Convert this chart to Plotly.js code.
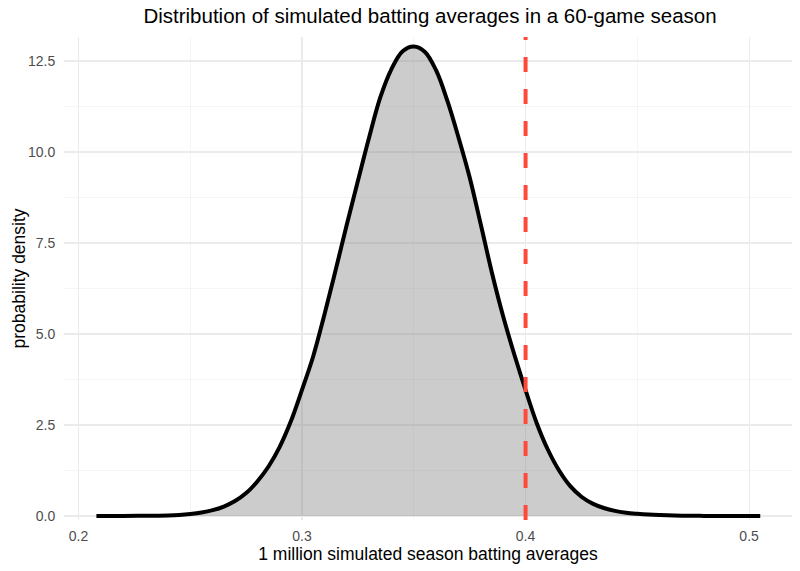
<!DOCTYPE html>
<html>
<head>
<meta charset="utf-8">
<script src="https://cdn.plot.ly/plotly-3.0.1.min.js"></script>
<style>
  html, body { margin: 0; padding: 0; background: #fff; }
  #chart { width: 800px; height: 571px; }
</style>
</head>
<body>
<div id="chart"></div>
<script>
"use strict";

// density curve
var averages = [0.208, 0.22, 0.23, 0.24, 0.245, 0.25, 0.255, 0.26, 0.265, 0.27,
  0.275, 0.28, 0.285, 0.29, 0.295, 0.30, 0.305, 0.31, 0.315, 0.32,
  0.325, 0.33, 0.335, 0.34, 0.345, 0.35, 0.355, 0.36, 0.365, 0.37,
  0.375, 0.38, 0.385, 0.39, 0.395, 0.40, 0.405, 0.41, 0.415, 0.42,
  0.425, 0.43, 0.435, 0.44, 0.445, 0.45, 0.455, 0.46, 0.47, 0.48,
  0.49, 0.505]
var density = [0, 0.002, 0.006, 0.017, 0.03, 0.055, 0.095, 0.16, 0.26, 0.41,
  0.63, 0.95, 1.36, 1.9, 2.6, 3.47, 4.39, 5.53, 6.75, 8.0,
  9.21, 10.4, 11.5, 12.28, 12.77, 12.9, 12.75, 12.24, 11.41, 10.4,
  9.3, 8.0, 6.67, 5.48, 4.43, 3.46, 2.55, 1.82, 1.25, 0.82,
  0.53, 0.34, 0.22, 0.14, 0.09, 0.06, 0.038, 0.024, 0.008, 0.003,
  0.001, 0]

// the .400 mark
var threshold = 0.4

var xTicks = [0.2, 0.3, 0.4, 0.5]
var xTickText = ["0.2", "0.3", "0.4", "0.5"]
var yTicks = [0, 2.5, 5, 7.5, 10, 12.5]
var yTickText = ["0.0", "2.5", "5.0", "7.5", "10.0", "12.5"]

var font = "Liberation Sans, Arial, sans-serif"

var trace = {
  x: averages,
  y: density,
  type: "scatter",
  mode: "lines",
  line: { color: "#000000", width: 4, shape: "spline", smoothing: 1 },
  fill: "tozeroy",
  fillcolor: "rgba(128,128,128,0.4)",
  hoverinfo: "skip"
}

var layout = {
  width: 800,
  height: 571,
  margin: { l: 64, r: 8, t: 37, b: 51 },
  paper_bgcolor: "#ffffff",
  plot_bgcolor: "#ffffff",
  showlegend: false,
  font: { family: font, color: "#000000" },
  title: {
    text: "Distribution of simulated batting averages in a 60-game season",
    font: { family: font, size: 20.5, color: "#000000" },
    x: 0.5375, xanchor: "center",
    y: 0.972, yanchor: "middle"
  },
  xaxis: {
    range: [0.1935, 0.5192],
    tickvals: xTicks,
    ticktext: xTickText,
    tickfont: { family: font, size: 14, color: "#4D4D4D" },
    ticks: "outside",
    ticklen: 3,
    tickcolor: "rgba(0,0,0,0)",
    showgrid: true,
    gridcolor: "#EBEBEB",
    gridwidth: 1.1,
    minor: { showgrid: true, dtick: 0.05, tick0: 0.2, gridcolor: "#EBEBEB", gridwidth: 0.5 },
    zeroline: false,
    showline: false,
    title: {
      text: "1 million simulated season batting averages",
      font: { family: font, size: 17.5, color: "#000000" },
      standoff: 0
    }
  },
  yaxis: {
    range: [-0.11, 13.16],
    tickvals: yTicks,
    ticktext: yTickText,
    tickfont: { family: font, size: 14, color: "#4D4D4D" },
    ticks: "outside",
    ticklen: 5,
    tickcolor: "rgba(0,0,0,0)",
    showgrid: true,
    gridcolor: "#EBEBEB",
    gridwidth: 1.1,
    minor: { showgrid: true, dtick: 1.25, tick0: 0, gridcolor: "#EBEBEB", gridwidth: 0.5 },
    zeroline: false,
    showline: false
  },
  annotations: [{
    text: "probability density",
    textangle: -90,
    xref: "paper", yref: "paper",
    x: -46 / 728, y: 0.5,
    xanchor: "center", yanchor: "middle",
    showarrow: false,
    font: { family: font, size: 17.5, color: "#000000" }
  }],
  shapes: [{
    type: "line",
    xref: "x", yref: "paper",
    x0: threshold, x1: threshold, y0: 0, y1: 1,
    line: { color: "#FF4A3A", width: 4, dash: "15px,17px" },
    layer: "above"
  }]
}

Plotly.newPlot("chart", [trace], layout, { displayModeBar: false, staticPlot: true })
</script>
</body>
</html>
